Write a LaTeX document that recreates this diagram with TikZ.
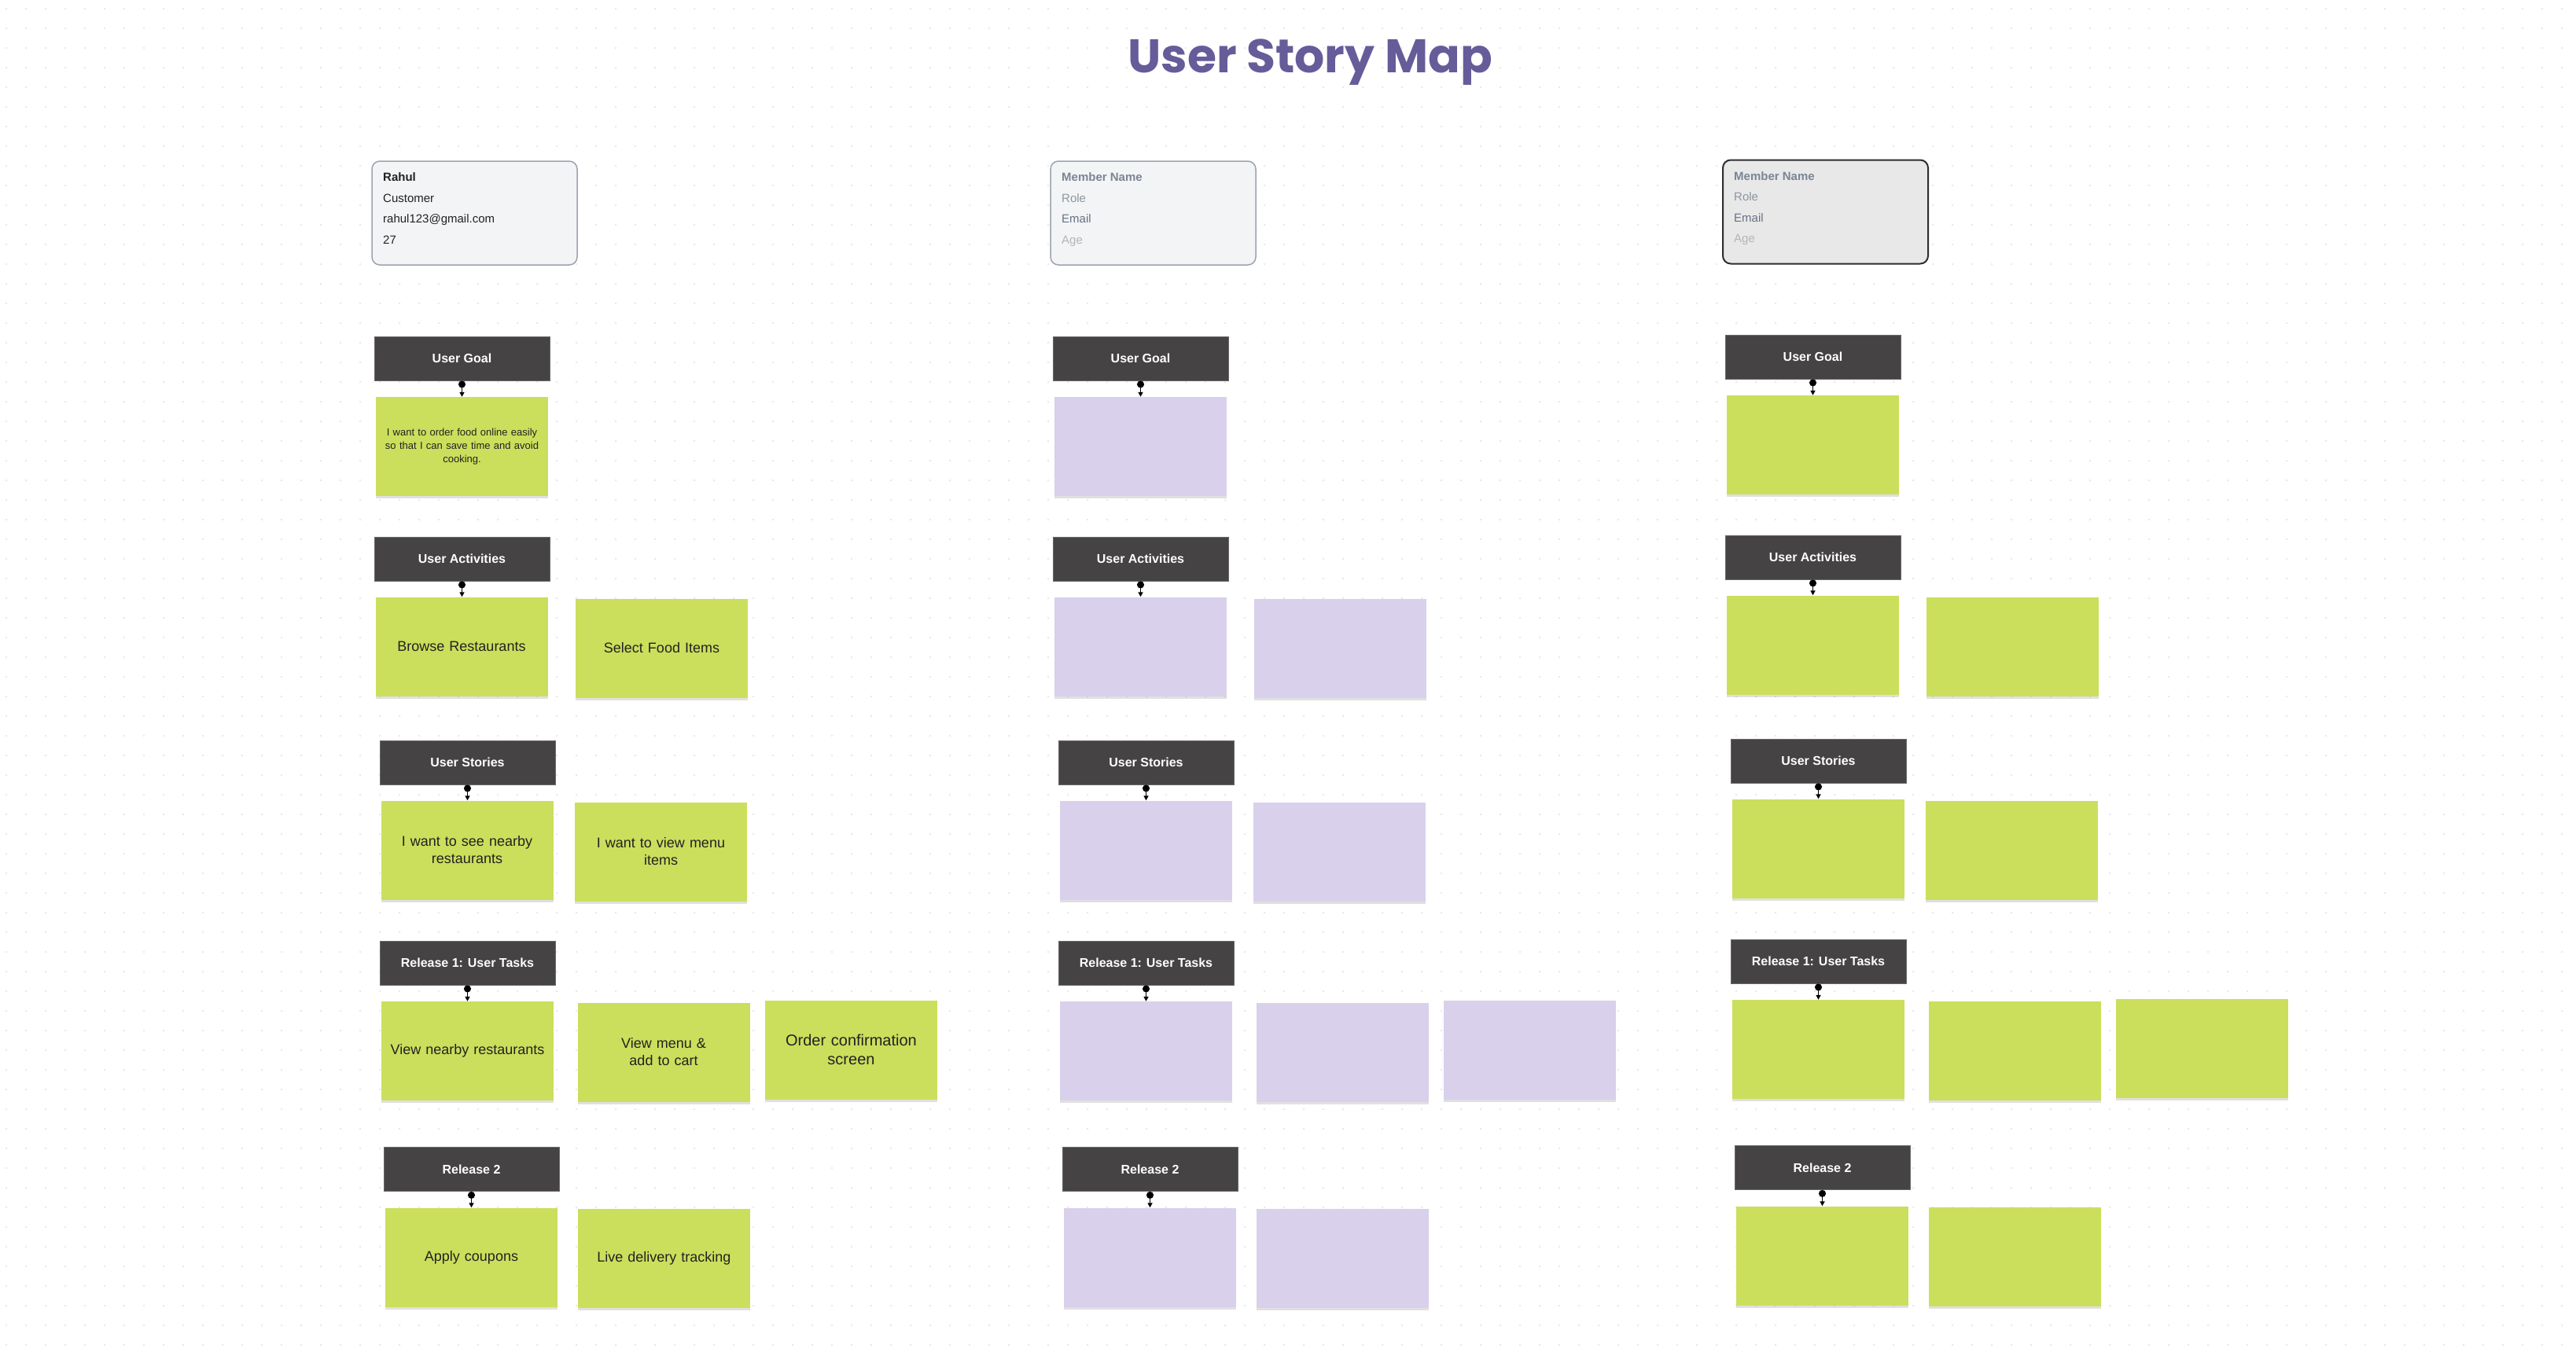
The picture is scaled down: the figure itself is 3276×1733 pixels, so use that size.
\documentclass[tikz,border=0pt]{standalone}
\usepackage{fontspec}
\setmainfont{Liberation Sans}
\newfontfamily\titlefont{Poppins}
\usetikzlibrary{arrows.meta,shadows}
\definecolor{stickygreen}{HTML}{CBDF5C}
\definecolor{stickypurple}{HTML}{D9D0EC}
\definecolor{headdark}{HTML}{454344}
\definecolor{titlepurple}{HTML}{665C99}
\definecolor{gridgray}{HTML}{E9E9E9}
\definecolor{cardfill}{HTML}{F2F4F6}
\definecolor{cardline}{HTML}{9CA3AF}
\definecolor{cardfillB}{HTML}{E8E8E8}
\definecolor{cardlineB}{HTML}{2E2E2E}
\definecolor{mutedName}{HTML}{7B8594}
\definecolor{mutedRole}{HTML}{8D95A1}
\definecolor{mutedMail}{HTML}{687283}
\definecolor{mutedAge}{HTML}{B2B5BA}
\definecolor{inktext}{HTML}{222222}
\tikzset{
  header/.style={fill=headdark, draw=headdark!80!white, line width=0.8pt,
    minimum width=223pt, minimum height=56pt, inner sep=0pt, text=white,
    font=\fontsize{16}{19}\selectfont\bfseries},
  sticky/.style={fill=#1, minimum height=126pt, text width=205pt, inner xsep=7pt,
    inner ysep=0pt, align=center, text=inktext, font=\fontsize{18}{22}\selectfont,
    drop shadow={shadow xshift=0pt, shadow yshift=-3pt, opacity=0.12, fill=black}},
  conn/.style={line width=1.5pt, black,
    {Circle[length=9pt,width=9pt]}-{Triangle[length=6pt,width=6pt]}},
  cardbox/.style={rounded corners=10pt, minimum width=261pt, minimum height=132pt, inner sep=0pt},
  cardtxt/.style={anchor=base west, inner sep=0pt, font=\fontsize{15}{18}\selectfont},
}
\newcommand\storycol[4]{%
\begin{scope}[shift={(#2,#3)}]
  \node[header] (#1hG) at (587.5,456) {User Goal};
  \node[sticky=#4, font=\fontsize{13}{16.7}\selectfont] (#1sG) at (587.5,568) {\tGoal};
  \node[header] (#1hA) at (587.5,711) {User Activities};
  \node[sticky=#4] (#1sAa) at (587,822.5) {\tActA};
  \node[sticky=#4] (#1sAb) at (841.5,824.5) {\tActB};
  \node[header] (#1hS) at (594.5,970) {User Stories};
  \node[sticky=#4] (#1sSa) at (594,1081.5) {\tStA};
  \node[sticky=#4] (#1sSb) at (840.5,1083.5) {\tStB};
  \node[header] (#1hT) at (594.5,1225) {Release 1: User Tasks};
  \node[sticky=#4] (#1sTa) at (594.5,1337) {\tTaA};
  \node[sticky=#4] (#1sTb) at (844,1338.5) {\tTaB};
  \node[sticky=#4, font=\fontsize{20}{24}\selectfont] (#1sTc) at (1082.5,1335.5) {\tTaC};
  \node[header] (#1hR) at (599.5,1487.5) {Release 2};
  \node[sticky=#4] (#1sRa) at (599.5,1599.5) {\tReA};
  \node[sticky=#4] (#1sRb) at (844.5,1601) {\tReB};
  \draw[conn] (#1hG.south) -- (#1hG.south |- #1sG.north);
  \draw[conn] (#1hA.south) -- (#1hA.south |- #1sAa.north);
  \draw[conn] (#1hS.south) -- (#1hS.south |- #1sSa.north);
  \draw[conn] (#1hT.south) -- (#1hT.south |- #1sTa.north);
  \draw[conn] (#1hR.south) -- (#1hR.south |- #1sRa.north);
\end{scope}}
\newcommand\cleartexts{\def\tGoal{}\def\tActA{}\def\tActB{}\def\tStA{}\def\tStB{}%
  \def\tTaA{}\def\tTaB{}\def\tTaC{}\def\tReA{}\def\tReB{}}
\begin{document}
\begin{tikzpicture}[x=1pt,y=-1pt]
\useasboundingbox (0,0) rectangle (3276,1733);
\fill[white] (0,0) rectangle (3276,1733);
\foreach \j in {0,...,68}{
  \fill[gridgray] \foreach \i in {0,...,130}{(7+25*\i,10+25*\j) rectangle ++(2,2)};
}
% title
\node[font=\titlefont\bfseries\fontsize{60}{70}\selectfont, text=titlepurple, anchor=base, inner sep=0pt] (title) at (1666,92) {User Story Map};
% member cards
\node[cardbox, fill=cardfill, draw=cardline, line width=1.5pt] (c1card) at (603.5,271) {};
\node[cardtxt, text=inktext, font=\fontsize{15}{18}\selectfont\bfseries] (c1name) at (487,230.5) {Rahul};
\node[cardtxt, text=inktext] (c1role) at (487,257) {Customer};
\node[cardtxt, text=inktext] (c1mail) at (487,283.5) {rahul123@gmail.com};
\node[cardtxt, text=inktext] (c1age) at (487,310) {27};
\node[cardbox, fill=cardfill, draw=cardline, line width=1.5pt] (c2card) at (1466.5,271) {};
\node[cardtxt, text=mutedName, font=\fontsize{15}{18}\selectfont\bfseries] (c2name) at (1350,230.5) {Member Name};
\node[cardtxt, text=mutedRole] (c2role) at (1350,257) {Role};
\node[cardtxt, text=mutedMail] (c2mail) at (1350,283.5) {Email};
\node[cardtxt, text=mutedAge] (c2age) at (1350,310) {Age};
\node[cardbox, fill=cardfillB, draw=cardlineB, line width=2pt] (c3card) at (2321.5,269.5) {};
\node[cardtxt, text=mutedName, font=\fontsize{15}{18}\selectfont\bfseries] (c3name) at (2205,229) {Member Name};
\node[cardtxt, text=mutedRole] (c3role) at (2205,255.5) {Role};
\node[cardtxt, text=mutedMail] (c3mail) at (2205,282) {Email};
\node[cardtxt, text=mutedAge] (c3age) at (2205,308.5) {Age};
% column 1
\def\tGoal{I want to order food online easily\\so that I can save time and avoid\\cooking.}
\def\tActA{Browse Restaurants}
\def\tActB{Select Food Items}
\def\tStA{I want to see nearby\\restaurants}
\def\tStB{I want to view menu\\items}
\def\tTaA{View nearby restaurants}
\def\tTaB{View menu \&\\add to cart}
\def\tTaC{Order confirmation\\screen}
\def\tReA{Apply coupons}
\def\tReB{Live delivery tracking}
\storycol{ca}{0}{0}{stickygreen}
% column 2
\cleartexts
\storycol{cb}{863}{0}{stickypurple}
% column 3
\storycol{cc}{1718}{-2}{stickygreen}
\end{tikzpicture}
\end{document}
